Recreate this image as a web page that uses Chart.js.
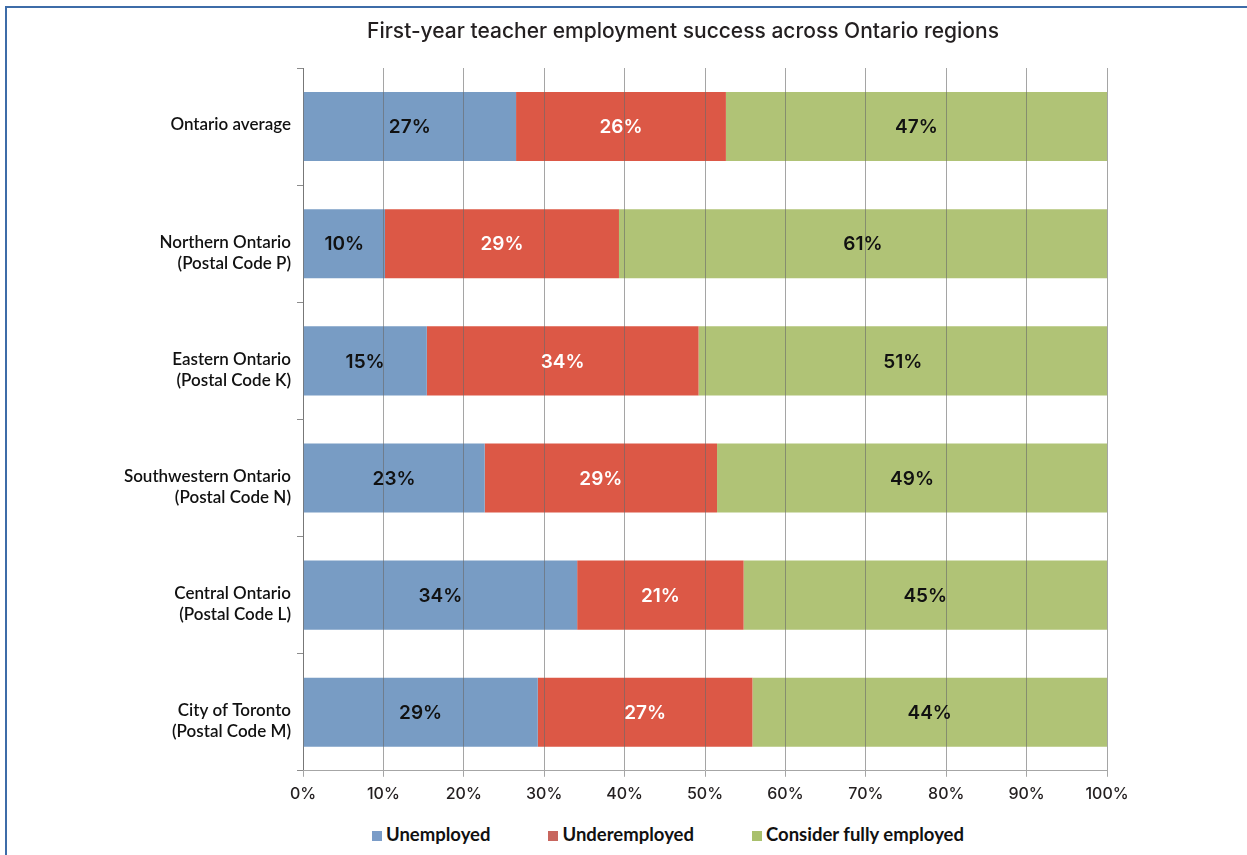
<!DOCTYPE html>
<html>
<head>
<meta charset="utf-8">
<title>First-year teacher employment success across Ontario regions</title>
<script src="https://cdn.jsdelivr.net/npm/chart.js@4.4.0/dist/chart.umd.min.js"></script>
<style>
    body {
        margin: 0;
        background: #fff;
        overflow: hidden;
        font-family: Lato, "Noto Sans", sans-serif;
    }

    .rule {
        position: absolute;
        background: #3d6ca8;
    }

    #rule-top {
        left: 5px;
        top: 6px;
        width: 1242px;
        height: 2px;
    }

    #rule-left {
        left: 5px;
        top: 6px;
        width: 2px;
        height: 849px;
    }

    #chart-box {
        position: absolute;
        left: 0;
        top: 0;
        width: 1247px;
        height: 812px;
    }

    #legend {
        position: absolute;
        left: 372px;
        top: 823px;
        display: flex;
        gap: 58px;
        font-size: 18.5px;
        font-weight: 700;
        color: #111;
    }

    #legend span.box {
        display: inline-block;
        width: 10px;
        height: 10px;
        margin-right: 4px;
    }
</style>
</head>
<body>
<div class="rule" id="rule-top"></div>
<div class="rule" id="rule-left"></div>
<div id="chart-box"><canvas id="myChart"></canvas></div>
<div id="legend"></div>

<script>
'use strict';

let chartTitle = 'First-year teacher employment success across Ontario regions';

let regions = [
    ['Ontario average', ''],
    ['Northern Ontario', '(Postal Code P)'],
    ['Eastern Ontario', '(Postal Code K)'],
    ['Southwestern Ontario', '(Postal Code N)'],
    ['Central Ontario', '(Postal Code L)'],
    ['City of Toronto', '(Postal Code M)']
];

let seriesNames = ['Unemployed', 'Underemployed', 'Consider fully employed'];

// share of respondents, percent
let unemployed = [26.5, 10.2, 15.4, 22.6, 34.1, 29.2];
let underemployed = [26.1, 29.1, 33.8, 28.9, 20.7, 26.7];
let fullyEmployed = [47.4, 60.7, 50.8, 48.5, 45.2, 44.1];

let xTicks = [0, 10, 20, 30, 40, 50, 60, 70, 80, 90, 100];

let barColors = ['#789cc4', '#dc5846', '#b0c376'];
let legendColors = ['#7a9cc8', '#c8665e', '#a9c06c'];
let valueColors = ['#111', '#fff', '#111'];

let seriesData = [unemployed, underemployed, fullyEmployed];

// title sits over the middle of the bars, not the canvas
let titlePlugin = {
    id: 'titleText',
    afterDraw(chart) {
        let ctx = chart.ctx;
        ctx.save();
        ctx.font = '500 21px Inter, "Noto Sans", sans-serif';
        ctx.fillStyle = '#231f20';
        ctx.textAlign = 'center';
        ctx.textBaseline = 'middle';
        ctx.fillText(chartTitle, 683, 32);
        ctx.restore();
    }
};

// rounded percent printed in the middle of each segment
let valuePlugin = {
    id: 'segmentValues',
    afterDraw(chart) {
        let ctx = chart.ctx;
        ctx.save();
        ctx.font = '600 19px Inter, "Noto Sans", sans-serif';
        ctx.textAlign = 'center';
        ctx.textBaseline = 'middle';
        chart.data.datasets.forEach(function (ds, i) {
            let meta = chart.getDatasetMeta(i);
            ctx.fillStyle = valueColors[i];
            meta.data.forEach(function (bar, j) {
                let cx = (bar.x + bar.base) / 2;
                ctx.fillText(Math.round(ds.data[j]) + '%', cx, bar.y + 1);
            });
        });
        ctx.restore();
    }
};

let datasets = [];
for (let i = 0; i < seriesNames.length; i++) {
    datasets.push({
        label: seriesNames[i],
        data: seriesData[i],
        backgroundColor: barColors[i],
        borderWidth: 0,
        categoryPercentage: 0.59,
        barPercentage: 1
    });
}

let ctx = document.getElementById('myChart').getContext('2d');
let myChart = new Chart(ctx, {
    type: 'bar',
    data: {
        labels: regions,
        datasets: datasets
    },
    plugins: [titlePlugin, valuePlugin],
    options: {
        indexAxis: 'y',
        responsive: true,
        maintainAspectRatio: false,
        animation: false,
        layout: {
            padding: { top: 68, right: 140, bottom: 0, left: 0 }
        },
        plugins: {
            legend: { display: false },
            title: { display: false },
            tooltip: { enabled: false }
        },
        scales: {
            x: {
                stacked: true,
                min: 0,
                max: 100,
                afterBuildTicks: function (scale) {
                    scale.ticks = xTicks.map(function (v) { return { value: v }; });
                },
                ticks: {
                    padding: 8,
                    color: '#231f20',
                    font: { family: 'Inter, "Noto Sans", sans-serif', size: 16, weight: '500' },
                    callback: function (value) { return value + '%'; }
                },
                // vertical lines run over the bars
                grid: {
                    color: 'rgba(105,105,105,0.6)',
                    tickLength: 6,
                    z: 1
                },
                border: { display: true, color: '#a6a6a6', z: 1 }
            },
            y: {
                stacked: true,
                afterFit: function (scale) {
                    scale.width = 303;
                },
                ticks: {
                    padding: 6,
                    labelOffset: 9,
                    color: '#111',
                    font: { family: 'Lato, "Noto Sans", sans-serif', size: 17, weight: '600', lineHeight: 1.25 }
                },
                grid: {
                    drawOnChartArea: false,
                    tickLength: 6,
                    color: '#8c8c8c'
                },
                border: { display: true, color: '#8c8c8c' }
            }
        }
    }
});

function renderLegend() {
    let legendElement = document.getElementById('legend');
    for (let i = 0; i < seriesNames.length; i++) {
        let item = document.createElement('div');
        let box = document.createElement('span');
        box.className = 'box';
        box.style.background = legendColors[i];
        item.appendChild(box);
        item.appendChild(document.createTextNode(seriesNames[i]));
        legendElement.appendChild(item);
    }
}

renderLegend();
</script>
</body>
</html>
